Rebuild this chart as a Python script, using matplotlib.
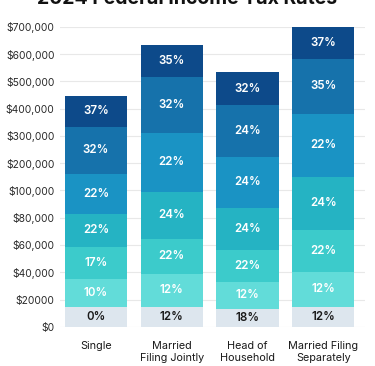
import numpy as np
import matplotlib.pyplot as plt

plt.rcParams['font.family'] = ['Inter', 'DejaVu Sans']

# categories and stacked bracket tops (cumulative $ at each segment top)
categories = ['Single', 'Married\nFiling Jointly', 'Head of\nHousehold', 'Married Filing\nSeparately']
tops = [
    [14200, 35200, 58600, 82800, 161000, 333000, 447000],
    [14900, 38900, 64600, 99200, 311000, 514000, 634000],
    [13200, 33000, 56500, 87200, 224000, 414000, 533000],
    [14700, 40300, 71100, 150000, 381000, 582000, 701000],
]
rates = [
    ['0%', '10%', '17%', '22%', '22%', '32%', '37%'],
    ['12%', '12%', '22%', '24%', '22%', '32%', '35%'],
    ['18%', '12%', '22%', '24%', '24%', '24%', '32%'],
    ['12%', '12%', '22%', '24%', '22%', '35%', '37%'],
]
ytick_vals = [0, 20000, 40000, 60000, 80000, 100000, 200000, 300000, 400000, 500000, 600000, 700000]
ytick_labels = ['$0', '$20000', '$40,000', '$60,000', '$80,000', '$100,000', '$200,000',
                '$300,000', '$400,000', '$500,000', '$600,000', '$700,000']

colors = ['#dde6ee', '#62dcd9', '#3ccbcb', '#25b3c3', '#1a93c4', '#1672ab', '#0d4a8a']

# evenly spaced ticks on a non-linear dollar axis
idx = np.arange(len(ytick_vals))
fwd = lambda v: np.interp(v, ytick_vals, idx)
inv = lambda u: np.interp(u, idx, ytick_vals)

fig = plt.figure(figsize=(3.75, 3.66), dpi=100)
ax = fig.add_axes([0.16, 0.107, 0.813, 0.82])
ax.set_yscale('function', functions=(fwd, inv))

for i, bar_tops in enumerate(tops):
    bottom = 0
    for j, top in enumerate(bar_tops):
        ax.bar(i, top - bottom, bottom=bottom, width=0.82, color=colors[j], zorder=2)
        mid = inv((fwd(bottom) + fwd(top)) / 2)
        ax.text(i, mid, rates[i][j], ha='center', va='center', fontsize=8.3, fontweight='semibold',
                color='#1a1a1a' if j == 0 else 'white', zorder=3)
        bottom = top

ax.set_ylim(0, 700000)
ax.set_xlim(-0.476, 3.55)
ax.set_yticks(ytick_vals)
ax.set_yticklabels(ytick_labels, fontsize=7.4, color='#2a2a2a')
ax.set_xticks(range(len(categories)))
ax.set_xticklabels(categories, fontsize=7.8, color='#1a1a1a', linespacing=1.25)
ax.tick_params(axis='y', length=0, pad=4)
ax.tick_params(axis='x', length=0, pad=10)
ax.yaxis.grid(True, color='#e8e8e8', linewidth=0.8, zorder=0)
ax.set_axisbelow(True)
for s in ax.spines.values():
    s.set_visible(False)

fig.text(0.5, 1.003, '2024 Federal Income Tax Rates', ha='center', va='center',
         fontsize=14, fontweight='bold', color='#111111')

fig.savefig('out.png', dpi=100)
